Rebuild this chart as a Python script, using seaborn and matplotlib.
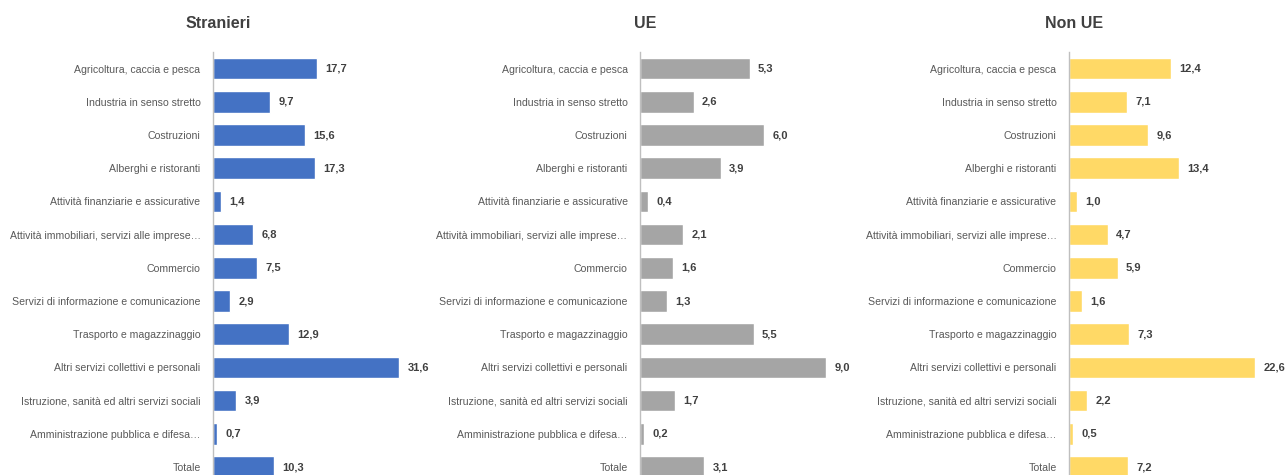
import matplotlib
matplotlib.use("Agg")
import matplotlib.pyplot as plt
import seaborn as sns
import pandas as pd

categories = [
    "Agricoltura, caccia e pesca",
    "Industria in senso stretto",
    "Costruzioni",
    "Alberghi e ristoranti",
    "Attività finanziarie e assicurative",
    "Attività immobiliari, servizi alle imprese…",
    "Commercio",
    "Servizi di informazione e comunicazione",
    "Trasporto e magazzinaggio",
    "Altri servizi collettivi e personali",
    "Istruzione, sanità ed altri servizi sociali",
    "Amministrazione pubblica e difesa…",
    "Totale",
]
stranieri = [17.7, 9.7, 15.6, 17.3, 1.4, 6.8, 7.5, 2.9, 12.9, 31.6, 3.9, 0.7, 10.3]
ue = [5.3, 2.6, 6.0, 3.9, 0.4, 2.1, 1.6, 1.3, 5.5, 9.0, 1.7, 0.2, 3.1]
non_ue = [12.4, 7.1, 9.6, 13.4, 1.0, 4.7, 5.9, 1.6, 7.3, 22.6, 2.2, 0.5, 7.2]

titles = ["Stranieri", "UE", "Non UE"]
colors = ["#4472C4", "#A5A5A5", "#FFD966"]

sns.set_theme(style="white")
plt.rcParams['font.family'] = ['Liberation Sans Narrow', 'Liberation Sans', 'DejaVu Sans']

fig = plt.figure(figsize=(12.85, 4.75), dpi=100)

lefts = [213 / 1285, 640 / 1285, 1069 / 1285]
ax_w = 206 / 1285
ax_top = 1 - 52 / 475

for i, (vals, title, col) in enumerate(zip([stranieri, ue, non_ue], titles, colors)):
    ax = fig.add_axes([lefts[i], 0, ax_w, ax_top])
    df = pd.DataFrame({"cat": categories, "val": vals})
    sns.barplot(data=df, x="val", y="cat", color=col, saturation=1,
                width=0.65, ax=ax, orient="h")
    # each panel has its own scale: longest bar ~186 px
    ax.set_xlim(0, max(vals) * 206 / 186)
    ax.set_ylim(12.24, -0.5)
    ax.set_xlabel("")
    ax.set_ylabel("")
    ax.set_xticks([])
    for s in ["top", "right", "bottom"]:
        ax.spines[s].set_visible(False)
    ax.spines["left"].set_color("#BFBFBF")
    ax.spines["left"].set_linewidth(1)
    ax.tick_params(axis="y", length=0, pad=9, labelsize=7.6, labelcolor="#595959")
    ax.bar_label(ax.containers[0],
                 labels=[f"{v:.1f}".replace(".", ",") for v in vals],
                 padding=6, fontsize=8, fontweight="bold", color="#404040")
    fig.text(lefts[i] + 5 / 1285, 1 - 24 / 475, title, ha="center", va="center",
             fontsize=11.5, fontweight="bold", color="#404040")

fig.savefig("out.png", dpi=100)
